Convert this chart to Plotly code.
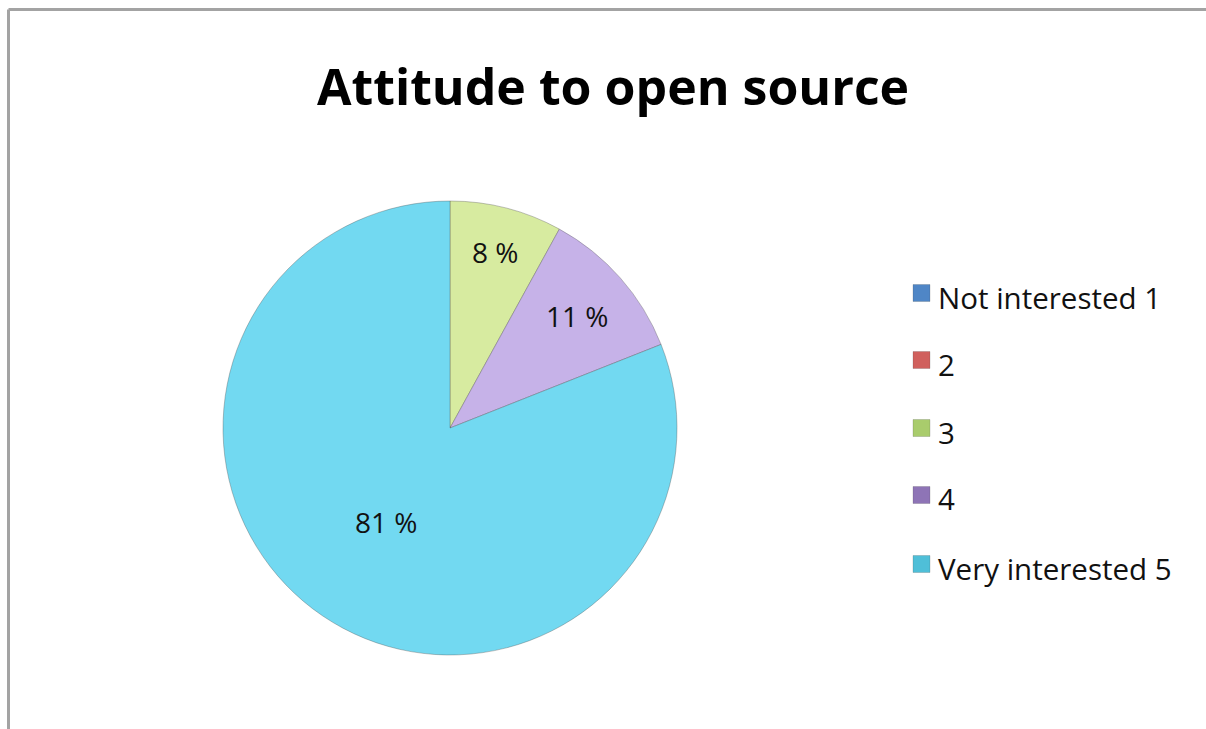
import plotly.graph_objects as go

# ---- data ----
labels = ["Not interested 1", "2", "3", "4", "Very interested 5"]
values = [0, 0, 8, 11, 81]
title_text = "Attitude to open source"

# ---- styles ----
slice_colors = ["#6f9fd8", "#e08a88", "#d7eba0", "#c6b2e8", "#72d9f1"]
swatch_colors = ["#4f86c6", "#d0605d", "#a9cc6c", "#8e74b6", "#4fbfd8"]

W, H = 1206, 729
cx, cy, r = 450, 428, 227

texts = [f"{v} %" if v > 0 else "" for v in values]

fig = go.Figure()
fig.add_trace(go.Pie(
    labels=labels,
    values=values,
    text=texts,
    textinfo="text",
    textposition="inside",
    insidetextorientation="horizontal",
    sort=False,
    direction="clockwise",
    rotation=0,
    marker=dict(colors=slice_colors, line=dict(color="rgba(80,80,80,0.35)", width=1)),
    textfont=dict(family="Open Sans", size=28, color="#111111"),
    domain=dict(x=[(cx - r) / W, (cx + r) / W], y=[1 - (cy + r) / H, 1 - (cy - r) / H]),
    showlegend=False,
    hoverinfo="label+percent",
))

# manual legend (real text)
row_y = [297, 364, 432, 499, 568]
sw_x0, sw_size = 913, 17
for lab, col, yy in zip(labels, swatch_colors, row_y):
    fig.add_shape(type="rect", xref="paper", yref="paper",
                  x0=sw_x0 / W, x1=(sw_x0 + sw_size) / W,
                  y0=1 - (yy - 4 + sw_size / 2) / H, y1=1 - (yy - 4 - sw_size / 2) / H,
                  fillcolor=col, line=dict(color="rgba(60,60,60,0.4)", width=0.5))
    fig.add_annotation(text=lab, xref="paper", yref="paper",
                       x=936 / W, y=1 - yy / H, xanchor="left", yanchor="middle",
                       showarrow=False,
                       font=dict(family="Open Sans", size=29.5, color="#111111"))

# title
fig.add_annotation(text=f"<b>{title_text}</b>", xref="paper", yref="paper",
                   x=613 / W, y=1 - 86 / H, xanchor="center", yanchor="middle",
                   showarrow=False,
                   font=dict(family="Open Sans", size=50, color="#000000"))

# chart border (top and left edges visible)
fig.add_shape(type="line", xref="paper", yref="paper",
              x0=8.5 / W, x1=1.01, y0=1 - 9.5 / H, y1=1 - 9.5 / H,
              line=dict(color="#a3a3a3", width=3))
fig.add_shape(type="line", xref="paper", yref="paper",
              x0=8.5 / W, x1=8.5 / W, y0=1 - 9.5 / H, y1=-0.01,
              line=dict(color="#a3a3a3", width=3))

fig.update_layout(
    width=W, height=H,
    margin=dict(l=0, r=0, t=0, b=0),
    paper_bgcolor="white",
    plot_bgcolor="white",
)

fig.write_html("out.html")
